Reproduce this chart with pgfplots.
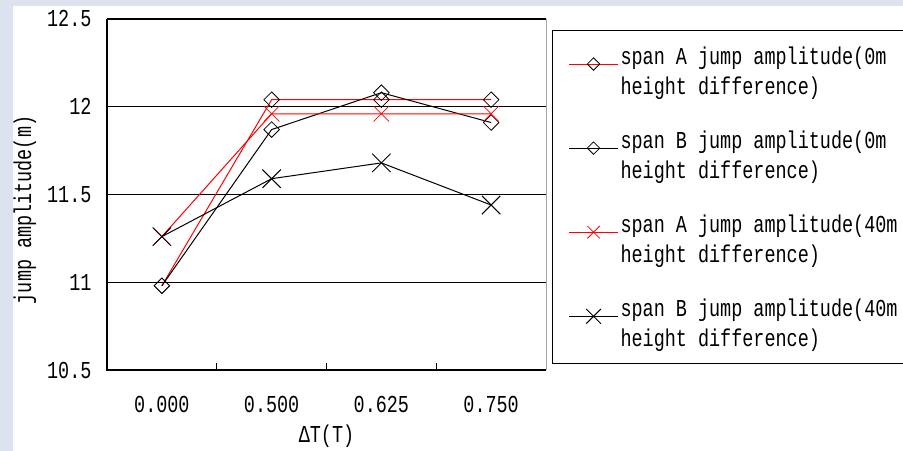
\documentclass[border=0pt]{standalone}
\usepackage{fontspec}
\setmainfont[FakeStretch=0.76]{Liberation Mono}
\usepackage{pgfplots}
\pgfplotsset{compat=1.18}
\definecolor{bgc}{RGB}{220,226,238}
\definecolor{pred}{RGB}{255,0,0}
\begin{document}
\begin{tikzpicture}[x=1bp,y=1bp]
\useasboundingbox (0,0) rectangle (903,451);
\clip (0,0) rectangle (903,451);
\fill[bgc] (0,0) rectangle (903,451);
\fill[white] (13,0) rectangle (903,445);
\begin{axis}[
  at={(107bp,81bp)}, anchor=south west,
  scale only axis, width=439bp, height=351bp,
  xmin=-0.5, xmax=3.5, ymin=10.5, ymax=12.5,
  xtick={0,1,2,3}, xticklabels={0.000,0.500,0.625,0.750},
  minor xtick={0.5,1.5,2.5},
  ytick={10.5,11,11.5,12,12.5},
  yticklabels={10.5,11,11.5,12,12.5},
  xtick pos=bottom, ytick pos=left,
  major tick length=0pt, minor tick length=7bp,
  tick align=inside, minor tick style={black, line width=1bp},
  ymajorgrids, grid style={black, line width=1.3bp},
  axis line style={draw=none},
  clip=false,
  font=\fontsize{24.3bp}{28bp}\selectfont,
  /pgf/number format/assume math mode=true,
  yticklabel style={xshift=-12bp},
  xticklabel style={yshift=-23bp},
  xlabel={ΔT(T)}, ylabel={jump amplitude(m)},
  xlabel style={at={(axis description cs:0.5,-0.19)}, anchor=center},
  ylabel style={at={(axis description cs:-0.187,0.456)}, anchor=center, rotate=0},
  legend style={at={(axis description cs:1.0137,0.9687)}, anchor=north west,
    draw=black, line width=1bp, inner xsep=16bp, inner ysep=14bp,
    row sep=31bp, cells={align=left},
    font=\fontsize{24.3bp}{28bp}\selectfont,
    /tikz/every even column/.append style={column sep=4bp}},
  legend cell align=left,
  legend image code/.code={
    \draw[mark repeat=2,mark phase=2,#1,every mark/.append style={scale=0.8}] plot coordinates {(0bp,7bp) (24.5bp,7bp) (49bp,7bp)};
  },
  after end axis/.code={
    \draw[black, line width=1.3bp] (rel axis cs:0,1) -- (rel axis cs:0,0) -- (rel axis cs:1,0);
    \draw[gray!70, line width=1bp] (rel axis cs:1,0) -- (rel axis cs:1,1);
  },
]
\addplot[pred, line width=1bp, mark=square, mark size=5.5bp, mark options={rotate=45, draw=black, line width=0.8bp}]
  coordinates {(0,10.98) (1,12.04) (2,12.04) (3,12.04)};
\addlegendentry{span A jump amplitude(0m\\[2bp]height difference)}
\addplot[black, line width=1bp, mark=square, mark size=5.5bp, mark options={rotate=45, line width=0.8bp}]
  coordinates {(0,10.98) (1,11.87) (2,12.08) (3,11.91)};
\addlegendentry{span B jump amplitude(0m\\[2bp]height difference)}
\addplot[pred, line width=1bp, mark=x, mark size=11bp, mark options={line width=0.8bp}]
  coordinates {(0,11.26) (1,11.96) (2,11.96) (3,11.96)};
\addlegendentry{span A jump amplitude(40m\\[2bp]height difference)}
\addplot[black, line width=1bp, mark=x, mark size=13bp, mark options={line width=1bp}]
  coordinates {(0,11.26) (1,11.59) (2,11.68) (3,11.44)};
\addlegendentry{span B jump amplitude(40m\\[2bp]height difference)}
\end{axis}
\end{tikzpicture}
\end{document}
